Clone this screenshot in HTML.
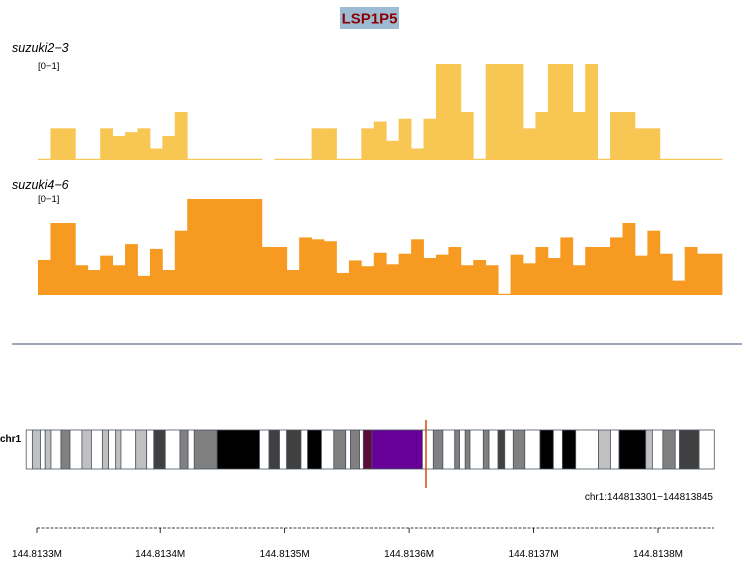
<!DOCTYPE html>
<html><head><meta charset="utf-8"><style>
body{margin:0;background:#fff;}
svg{display:block;font-family:"Liberation Sans",Arial,sans-serif;}
</style></head><body>
<svg id="c" width="746" height="571">
<rect x="340" y="7" width="59" height="22" fill="#9dbbd3"/>
<text x="369.5" y="23.5" text-anchor="middle" font-size="15" font-weight="bold" fill="#8b0000">LSP1P5</text>
<text x="12" y="52" font-size="12.5" font-style="italic" fill="#000">suzuki2−3</text>
<text x="38" y="69" font-size="9.5" fill="#000">[0−1]</text>
<text x="12" y="189" font-size="12.5" font-style="italic" fill="#000">suzuki4−6</text>
<text x="38" y="202" font-size="9.5" fill="#000">[0−1]</text>
<g id="t1"></g>
<g id="t2"></g>
<line x1="12" y1="344" x2="742" y2="344" stroke="#3f4f80" stroke-width="1"/>
<text x="0" y="442" font-size="10" font-weight="bold" fill="#000">chr1</text>
<g id="ideo"></g>
<line x1="426" y1="420" x2="426" y2="488" stroke="#d9531e" stroke-width="1.6"/>
<text x="713" y="500" font-size="10" text-anchor="end" fill="#000">chr1:144813301−144813845</text>
<g id="axis"></g>
</svg>
<script>
const track1Values=[0,0.33,0.33,0,0,0.33,0.25,0.29,0.33,0.12,0.25,0.5,0,0,0,0,0,0,null,0,0,0,0.33,0.33,0,0,0.33,0.4,0.2,0.43,0.12,0.43,1,1,0.5,0,1,1,1,0.33,0.5,1,1,0.5,1,0,0.5,0.5,0.33,0.33,0,0,0,0,0];
const track2Values=[0.365,0.75,0.75,0.31,0.26,0.41,0.31,0.53,0.2,0.48,0.26,0.67,1,1,1,1,1,1,0.5,0.5,0.26,0.6,0.58,0.56,0.23,0.36,0.3,0.44,0.32,0.43,0.58,0.385,0.42,0.5,0.31,0.365,0.31,0.01,0.42,0.33,0.5,0.385,0.6,0.31,0.5,0.5,0.6,0.75,0.41,0.67,0.43,0.15,0.5,0.43,0.43];
const tickLabels=["144.8133M","144.8134M","144.8135M","144.8136M","144.8137M","144.8138M"];
const tickPositions=[144813300,144813400,144813500,144813600,144813700,144813800];
const bandStarts=[55,68,85,95,107,128,147,172,192,215,228,243,254,285,308,323,347,378,395,408,456,545,565,587,602,632,646,675,701,726,736,755,763,781,887,910,930,955,965,977,987,1015,1027,1046,1060,1078,1102,1134,1162,1181,1209,1257,1282,1300,1356,1370,1392,1418,1427,1468,1500];
const bandStains=["w","l","w","l","w","g","w","l","w","l","w","l","w","l","w","d","w","g","w","g","b","w","d","w","d","w","b","w","g","w","g","w","r","p","w","g","w","g","w","g","w","g","w","d","w","g","w","b","w","b","w","l","w","b","l","w","g","w","d","w"];
const NS="http://www.w3.org/2000/svg";
const X0=38,X1=722;
function xBin(i,n){return X0+(X1-X0)*i/n;}
function drawTrack(id,vals,base,top,color){
  const g=document.getElementById(id);const n=vals.length;
  vals.forEach((v,i)=>{
    if(v===null)return;
    const y=base-(base-top)*v;
    const r=document.createElementNS(NS,'rect');
    r.setAttribute('x',xBin(i,n));r.setAttribute('width',(X1-X0)/n+0.4);
    r.setAttribute('y',Math.min(y,base-1.2));r.setAttribute('height',Math.max(base-y,1.2));
    r.setAttribute('fill',color);
    
    
    g.appendChild(r);
  });
}
drawTrack('t1',track1Values,160,64,'#f8c753');
drawTrack('t2',track2Values,295,199,'#f79a22');
const stainColor={w:'#ffffff',l:'#c0c0c0',g:'#808080',d:'#404040',b:'#000000',r:'#5c0a3c',p:'#660099'};
const ig=document.getElementById('ideo');
const bx=v=>v/2.1;
bandStains.forEach((s,i)=>{
  const r=document.createElementNS(NS,'rect');
  const a=bx(bandStarts[i]),b=bx(bandStarts[i+1]);
  r.setAttribute('x',a);r.setAttribute('y',430);r.setAttribute('width',b-a);r.setAttribute('height',39);
  r.setAttribute('fill',stainColor[s]);r.setAttribute('stroke','#4a5560');r.setAttribute('stroke-width','0.8');
  
  
  ig.appendChild(r);
});
const ax=document.getElementById('axis');
const A0=37,A1=714,G0=144813301,G1=144813845;
const gx=v=>A0+(v-G0)*(A1-A0)/(G1-G0);
const al=document.createElementNS(NS,'line');
al.setAttribute('x1',A0);al.setAttribute('x2',A1);al.setAttribute('y1',528);al.setAttribute('y2',528);
al.setAttribute('stroke','#000');al.setAttribute('stroke-dasharray','3,1.5');al.setAttribute('stroke-width','0.8');


ax.appendChild(al);
tickPositions.forEach((p,i)=>{
  const x=Math.max(gx(p),A0);
  const t=document.createElementNS(NS,'line');
  t.setAttribute('x1',x);t.setAttribute('x2',x);t.setAttribute('y1',528);t.setAttribute('y2',533);
  t.setAttribute('stroke','#000');t.setAttribute('stroke-width','0.8');
  
  
  ax.appendChild(t);
  const tx=document.createElementNS(NS,'text');
  tx.setAttribute('x',x);tx.setAttribute('y',557);tx.setAttribute('text-anchor','middle');tx.setAttribute('font-size','10');
  tx.textContent=tickLabels[i];
  
  
  ax.appendChild(tx);
});
</script>
</body></html>
